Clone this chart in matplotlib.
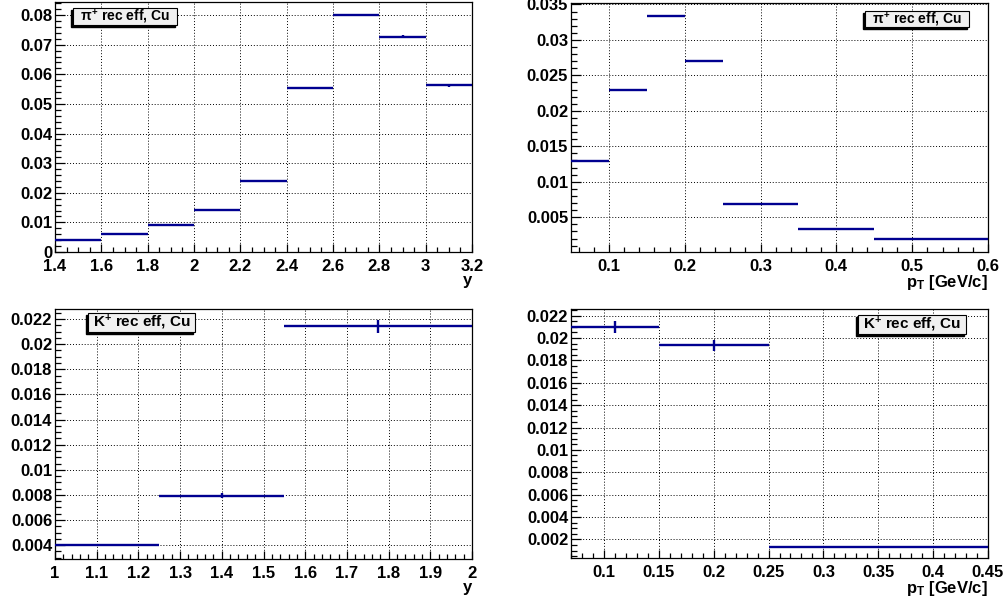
import matplotlib
matplotlib.use("Agg")
import matplotlib.pyplot as plt
from matplotlib.ticker import MultipleLocator, FormatStrFormatter
from matplotlib.patches import Rectangle

plt.rcParams["font.family"] = ["Liberation Sans", "DejaVu Sans"]
plt.rcParams["font.weight"] = "bold"
plt.rcParams["mathtext.fontset"] = "custom"
plt.rcParams["mathtext.rm"] = "Liberation Sans:bold"
plt.rcParams["mathtext.it"] = "Liberation Sans:bold"
plt.rcParams["mathtext.bf"] = "Liberation Sans:bold"

# pi+ efficiency vs rapidity
pi_y_edges = [1.4, 1.6, 1.8, 2.0, 2.2, 2.4, 2.6, 2.8, 3.0, 3.2]
pi_y_eff = [0.0040, 0.0062, 0.0090, 0.0141, 0.0240, 0.0554, 0.0801, 0.0727, 0.0563]
pi_y_err = [0.0001, 0.0001, 0.0001, 0.00015, 0.0002, 0.0002, 0.0003, 0.0005, 0.0005]

# pi+ efficiency vs pT
pi_pt_edges = [0.05, 0.10, 0.15, 0.20, 0.25, 0.35, 0.45, 0.60]
pi_pt_eff = [0.0129, 0.0229, 0.0334, 0.0270, 0.0069, 0.0033, 0.0019]
pi_pt_err = [0.00012, 0.0001, 0.00012, 0.0001, 0.00005, 0.00003, 0.00002]

# K+ efficiency vs rapidity
k_y_edges = [1.0, 1.25, 1.55, 2.0]
k_y_eff = [0.00403, 0.00795, 0.02142]
k_y_err = [0.0001, 0.0002, 0.0005]

# K+ efficiency vs pT
k_pt_edges = [0.07, 0.15, 0.25, 0.45]
k_pt_eff = [0.02096, 0.01935, 0.00135]
k_pt_err = [0.00055, 0.0005, 0.00005]

LINE = "#000090"


def draw_panel(ax, edges, eff, err, xlim, ylim, xmaj, xmin, ymaj, ymin,
               xlabel, label, box, label_size):
    centers = [(a + b) / 2 for a, b in zip(edges[:-1], edges[1:])]
    halfw = [(b - a) / 2 for a, b in zip(edges[:-1], edges[1:])]
    ax.errorbar(centers, eff, xerr=halfw, yerr=err, fmt="none",
                ecolor=LINE, elinewidth=1.7, capsize=0, zorder=3)

    ax.set_xlim(*xlim)
    ax.set_ylim(*ylim)
    ax.xaxis.set_major_locator(MultipleLocator(xmaj))
    ax.xaxis.set_minor_locator(MultipleLocator(xmin))
    ax.yaxis.set_major_locator(MultipleLocator(ymaj))
    ax.yaxis.set_minor_locator(MultipleLocator(ymin))
    ax.xaxis.set_major_formatter(FormatStrFormatter("%g"))
    ax.yaxis.set_major_formatter(FormatStrFormatter("%g"))

    ax.tick_params(axis="both", which="both", direction="in",
                   top=False, right=False, labelsize=12, width=0.9)
    ax.tick_params(axis="y", which="major", length=7, pad=2)
    ax.tick_params(axis="y", which="minor", length=4)
    ax.tick_params(axis="x", which="major", length=6, pad=5)
    ax.tick_params(axis="x", which="minor", length=3.5)
    for lab in ax.get_xticklabels() + ax.get_yticklabels():
        lab.set_fontweight("bold")

    ax.grid(True, which="major", color="black", linestyle=(0, (1, 2)),
            linewidth=0.7)
    for sp in ax.spines.values():
        sp.set_linewidth(0.9)

    ax.set_xlabel(xlabel, loc="right", fontsize=12, fontweight="bold",
                  labelpad=-1)

    # label box with a dark shadow offset to the lower left
    x0, y0, x1, y1 = box
    dx = 2.0 / 417
    dy = 2.0 / 250
    ax.add_patch(Rectangle((x0 - dx, y0 - dy), x1 - x0, y1 - y0,
                           transform=ax.transAxes, facecolor="black",
                           edgecolor="black", zorder=5, clip_on=False))
    ax.add_patch(Rectangle((x0, y0), x1 - x0, y1 - y0,
                           transform=ax.transAxes, facecolor="#f0f0f0",
                           edgecolor="black", linewidth=0.8, zorder=6,
                           clip_on=False))
    ax.text((x0 + x1) / 2, (y0 + y1) / 2, label, transform=ax.transAxes,
            ha="center", va="center", fontsize=label_size,
            fontweight="bold", zorder=7)


fig = plt.figure(figsize=(10.08, 6.01), dpi=100)
W = 417 / 1008

ax1 = fig.add_axes([55 / 1008, 1 - 252 / 601, W, 250 / 601])
draw_panel(ax1, pi_y_edges, pi_y_eff, pi_y_err,
           (1.4, 3.2), (0, 0.0844), 0.2, 0.05, 0.01, 0.002,
           "y", r"$\pi^{+}$ rec eff, Cu",
           (0.043, 0.908, 0.293, 0.976), 10)

ax2 = fig.add_axes([571 / 1008, 1 - 252 / 601, W, 249 / 601])
draw_panel(ax2, pi_pt_edges, pi_pt_eff, pi_pt_err,
           (0.05, 0.6), (0.0001, 0.0352), 0.1, 0.02, 0.005, 0.001,
           r"p$_\mathrm{T}$ [GeV/c]", r"$\pi^{+}$ rec eff, Cu",
           (0.705, 0.904, 0.954, 0.968), 10)

ax3 = fig.add_axes([55 / 1008, 1 - 559 / 601, W, 250 / 601])
draw_panel(ax3, k_y_edges, k_y_eff, k_y_err,
           (1.0, 2.0), (0.0029, 0.0228), 0.1, 0.02, 0.002, 0.0005,
           "y", r"K$^{+}$ rec eff, Cu",
           (0.079, 0.908, 0.336, 0.984), 11)

ax4 = fig.add_axes([571 / 1008, 1 - 558 / 601, W, 249 / 601])
draw_panel(ax4, k_pt_edges, k_pt_eff, k_pt_err,
           (0.07, 0.45), (0.00033, 0.0226), 0.05, 0.01, 0.002, 0.0005,
           r"p$_\mathrm{T}$ [GeV/c]", r"K$^{+}$ rec eff, Cu",
           (0.688, 0.900, 0.947, 0.976), 11)

fig.savefig("out.png", dpi=100)
